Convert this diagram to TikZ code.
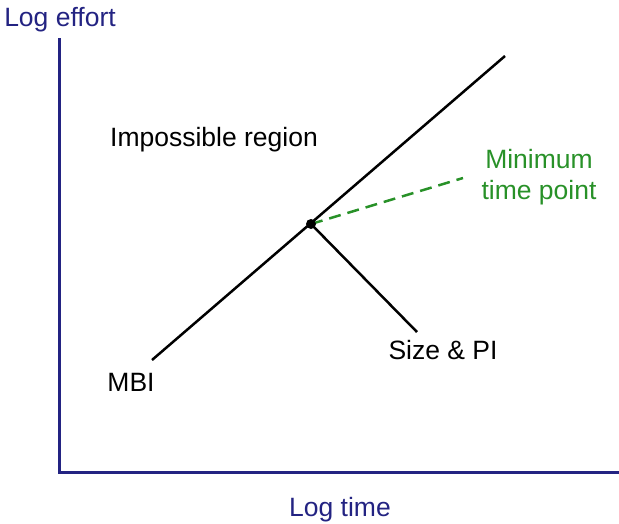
\documentclass[tikz,border=0pt]{standalone}
\usepackage{fontspec}
\setmainfont{Liberation Sans}
\begin{document}
\begin{tikzpicture}[x=1pt,y=-1pt,
  axiscol/.style={draw=navy, line width=3pt},
  curve/.style={draw=black, line width=2.5pt},
  lbl/.style={font=\fontsize{26.5}{31}\selectfont, inner sep=0pt},
  axlbl/.style={lbl, text=navy},
  greenlbl/.style={lbl, text=mtgreen, align=center}]
\definecolor{navy}{RGB}{35,35,130}
\definecolor{mtgreen}{RGB}{40,145,40}
\useasboundingbox (0,0) rectangle (619,523);
% axes
\coordinate (ytop) at (59,38);
\coordinate (origin) at (59,472);
\coordinate (xend) at (619,472);
\draw[axiscol] (ytop) -- (origin) -- (xend);
\node[axlbl] (ylabel) at (60,20) {Log effort};
\node[axlbl] (xlabel) at (340,510) {Log time};
% trade-off line and minimum time point
\coordinate (mbiend) at (152,360);
\coordinate (topend) at (505,56);
\coordinate (sizeend) at (417,332);
\coordinate (greenend) at (463,178);
\coordinate (mtp) at (311,224);
\draw[curve] (mbiend) -- (topend);
\draw[curve] (mtp) -- (sizeend);
\draw[draw=mtgreen, line width=2.5pt, dash pattern=on 12pt off 7pt] (mtp) -- (greenend);
\node[circle, fill=black, inner sep=0pt, minimum size=10pt] (dot) at (mtp) {};
% labels
\node[lbl] (impossible) at (214,140) {Impossible region};
\node[lbl] (mbi) at (131,382) {MBI};
\node[lbl] (sizepi) at (443,350) {Size \& PI};
\node[greenlbl] (mintime) at (539,177) {Minimum\\time point};
\end{tikzpicture}
\end{document}
